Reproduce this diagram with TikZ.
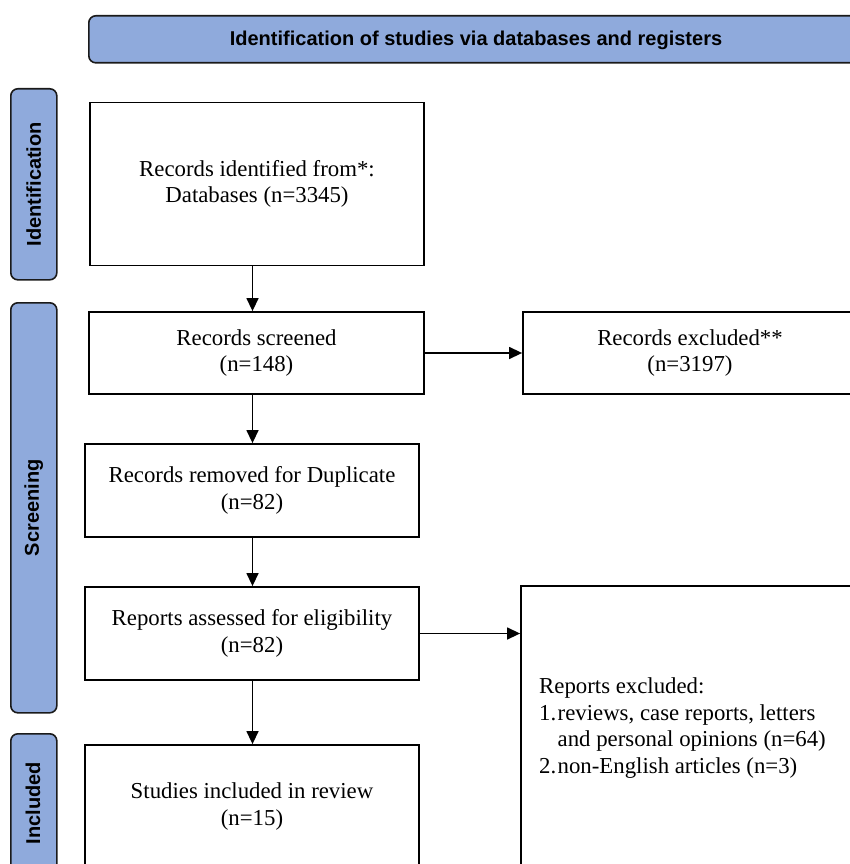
\documentclass[tikz,border=0pt]{standalone}
\usepackage{fontspec}
\setmainfont{Liberation Serif}
\newfontfamily\labfont{Liberation Sans}
\usetikzlibrary{arrows.meta}
\definecolor{bandblue}{HTML}{8FAADC}
\definecolor{bandedge}{HTML}{1A1A1A}
\tikzset{
  band/.style={draw=bandedge, fill=bandblue, line width=1.6pt, rounded corners=7pt},
  bandtext/.style={font=\labfont\bfseries\fontsize{20}{23}\selectfont},
  stepbox/.style={draw=black, line width=1.8pt, fill=white, inner sep=0pt,
    font=\fontsize{22.8}{26.5}\selectfont, align=center},
  arr/.style={line width=1.4pt, -{Triangle[length=13pt,width=12pt]}},
}
\begin{document}
\begin{tikzpicture}[x=1pt,y=-1pt]
\useasboundingbox (0,0) rectangle (850,864);
% banner and phase bands
\node[band, minimum width=777pt, minimum height=47pt, anchor=north west] (top) at (88,15) {};
\node[bandtext] (toptext) at (476,40) {Identification of studies via databases and registers};
\node[band, minimum width=46pt, minimum height=191pt, anchor=north west] (idband) at (10,88) {};
\node[bandtext, rotate=90] (idtext) at (idband.center) {Identification};
\node[band, minimum width=46pt, minimum height=410pt, anchor=north west] (scband) at (10,302) {};
\node[bandtext, rotate=90] (sctext) at (scband.center) {Screening};
\node[band, minimum width=46pt, minimum height=170pt, anchor=north west] (inband) at (10,733) {};
\node[bandtext, rotate=90] (intext) at (33,803) {Included};
% boxes
\node[stepbox, minimum width=334pt, minimum height=163pt] (b1) at (257,184) {Records identified from*:\\Databases (n=3345)};
\node[stepbox, minimum width=335pt, minimum height=82pt] (b2) at (256.5,353) {Records screened\\(n=148)};
\node[stepbox, minimum width=334pt, minimum height=82pt] (x1) at (690,353) {Records excluded**\\(n=3197)};
\node[stepbox, minimum width=334pt, minimum height=93pt] (b3) at (252,490.5) {Records removed for Duplicate\\(n=82)};
\node[stepbox, minimum width=334pt, minimum height=93pt] (b4) at (252,633.5) {Reports assessed for eligibility\\(n=82)};
\node[stepbox, minimum width=334pt, minimum height=284pt] (x2) at (688,728) {};
\node[font=\fontsize{22.8}{26.5}\selectfont, align=left, anchor=west, inner sep=0pt] (x2text) at (539,728)
  {Reports excluded:\\
   \makebox[18.5pt][l]{1.}reviews, case reports, letters\\
   \hspace*{18.5pt}and personal opinions (n=64)\\
   \makebox[18.5pt][l]{2.}non-English articles (n=3)};
\node[stepbox, minimum width=334pt, minimum height=123pt] (b5) at (252,806.5) {Studies included in review\\(n=15)};
% connectors
\coordinate (ax) at (252.5,0);
\draw[arr] (b1.south -| ax) -- (b2.north -| ax);
\draw[arr] (b2.south -| ax) -- (b3.north -| ax);
\draw[arr] (b3.south -| ax) -- (b4.north -| ax);
\draw[arr] (b4.south -| ax) -- (b5.north -| ax);
\draw[arr] (b2.east) -- (x1.west);
\draw[arr] (b4.east) -- (b4.east -| x2.west);
\end{tikzpicture}
\end{document}
